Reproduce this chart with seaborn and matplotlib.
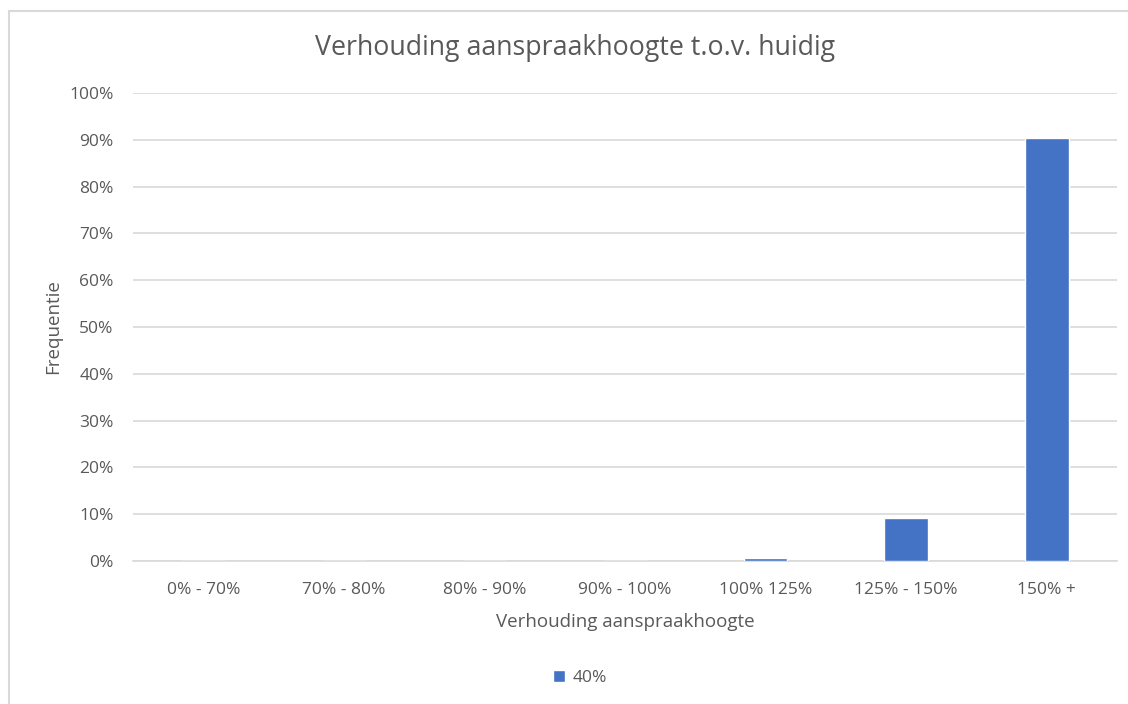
import matplotlib
matplotlib.use("Agg")
import matplotlib.pyplot as plt
import seaborn as sns
import pandas as pd
from matplotlib.patches import Rectangle
from matplotlib.ticker import PercentFormatter

categories = ["0% - 70%", "70% - 80%", "80% - 90%", "90% - 100%", "100% 125%", "125% - 150%", "150% +"]
values = [0.0, 0.0, 0.0, 0.0, 0.6, 9.1, 90.4]
series_name = "40%"
yticks = list(range(0, 101, 10))

sns.set_theme(style="white")
plt.rcParams['font.family'] = ['Open Sans', 'DejaVu Sans']

df = pd.DataFrame({"cat": categories, "val": values})

fig = plt.figure(figsize=(11.28, 7.04), dpi=100)
ax = fig.add_axes([133/1128, 1 - 561/704, (1117-133)/1128, (561-93)/704])

sns.barplot(data=df, x="cat", y="val", color="#4472C4", width=0.31, ax=ax,
            saturation=1, label=series_name, zorder=3)

ax.set_ylim(0, 100)
ax.set_yticks(yticks)
ax.yaxis.set_major_formatter(PercentFormatter(decimals=0))
ax.grid(axis="y", color="#d9d9d9", linewidth=1.2, zorder=0)
ax.set_axisbelow(True)
for s in ["top", "right", "left"]:
    ax.spines[s].set_visible(False)
ax.spines["bottom"].set_color("#d9d9d9")
ax.spines["bottom"].set_linewidth(1.2)
ax.tick_params(axis="both", length=0, labelsize=12.5, labelcolor="#595959")
ax.tick_params(axis="x", pad=15)
ax.tick_params(axis="y", pad=14)

ax.set_xlabel("Verhouding aanspraakhoogte", fontsize=13.5, color="#595959", labelpad=11)
ax.set_ylabel("Frequentie", fontsize=13.5, color="#595959", labelpad=5)

fig.text(575/1128, 1 - 48/704, "Verhouding aanspraakhoogte t.o.v. huidig",
         ha="center", va="center", fontsize=19.3, color="#595959")

leg = ax.legend(loc="center", bbox_to_anchor=(580/1128, 1 - 678/704),
                bbox_transform=fig.transFigure, frameon=False, fontsize=12.5,
                handlelength=0.7, handleheight=0.7, handletextpad=0.4)
for t in leg.get_texts():
    t.set_color("#595959")

# chart border
fig.patches.append(Rectangle((9/1128, -0.01), 1.2, 1 - 11/704 + 0.01, transform=fig.transFigure,
                             fill=False, edgecolor="#d9d9d9", linewidth=1.5))

fig.savefig("out.png", dpi=100)
